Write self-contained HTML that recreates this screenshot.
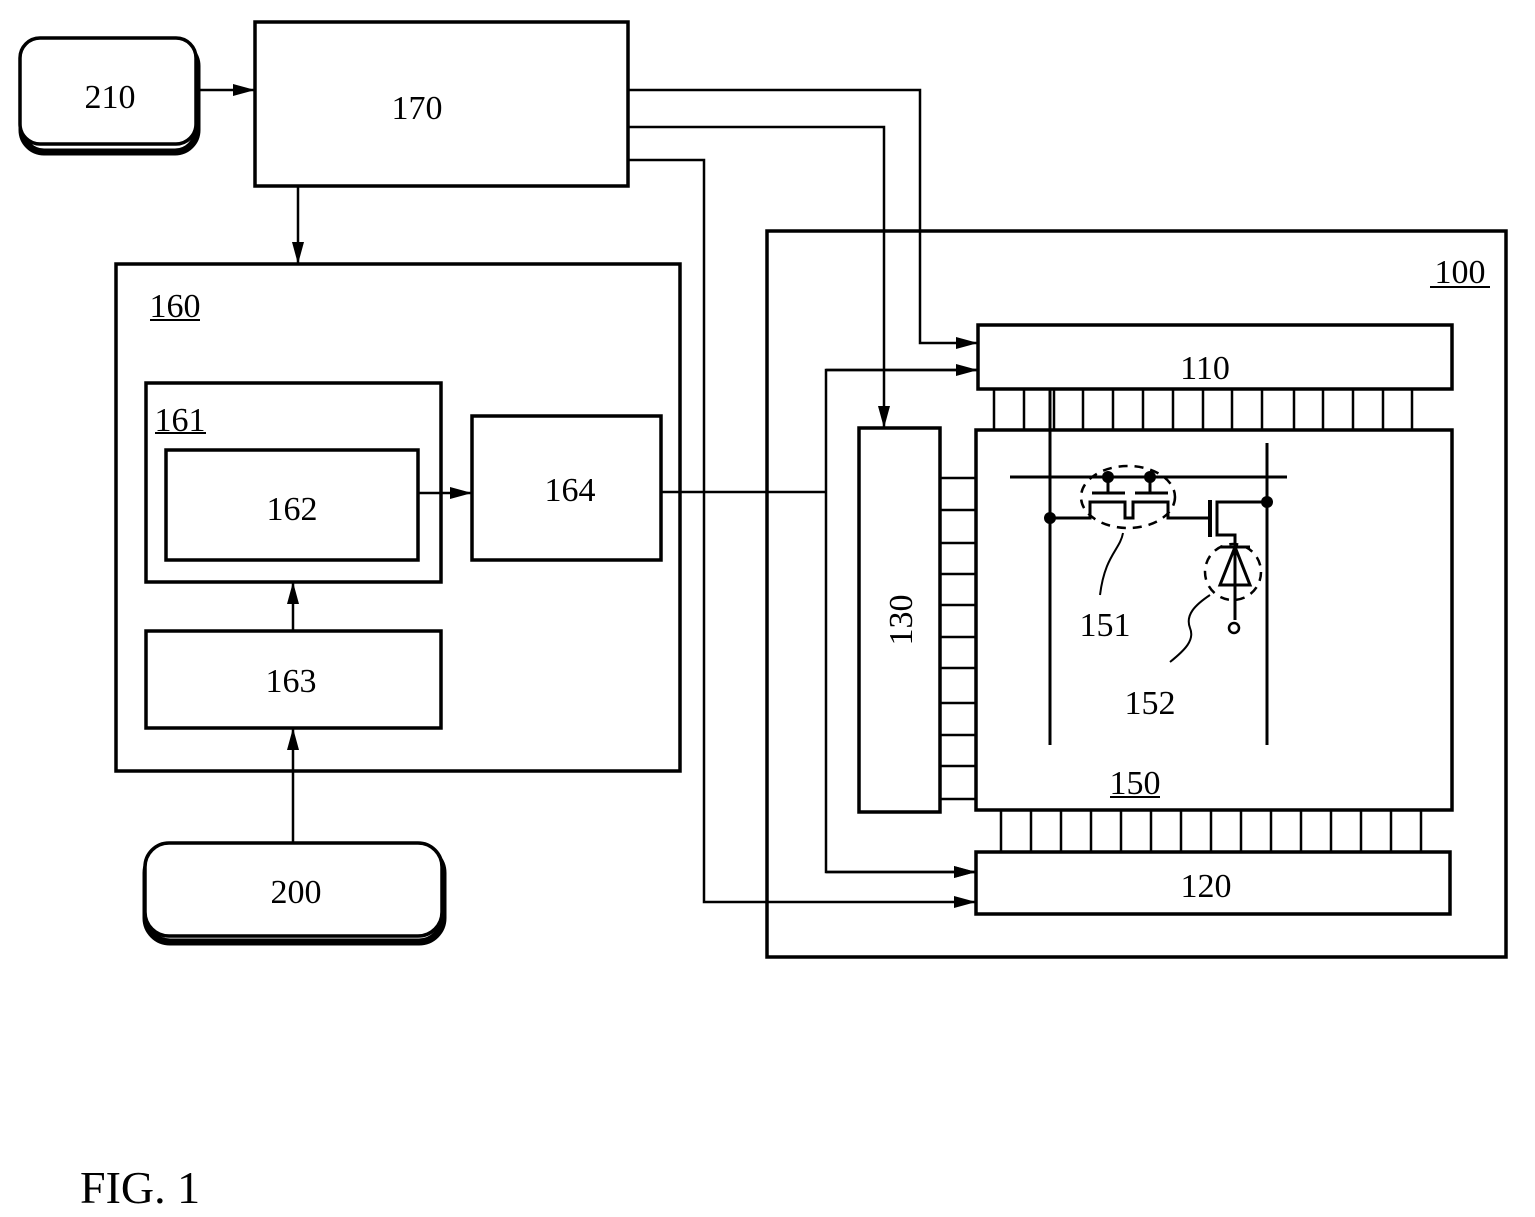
<!DOCTYPE html>
<html><head><style>html,body{margin:0;padding:0;background:#fff}svg{display:block}</style></head>
<body>
<svg width="1535" height="1217" viewBox="0 0 1535 1217" xmlns="http://www.w3.org/2000/svg" font-family="Liberation Serif, serif" font-size="34" fill="none" stroke="#000" stroke-width="3.5">
<defs>
<marker id="b" markerWidth="22" markerHeight="12" refX="22" refY="6" orient="auto" markerUnits="userSpaceOnUse"><path d="M0,0 L22,6 L0,12 z" fill="#000" stroke="none"/></marker>
</defs>
<!-- 210 -->
<rect x="22" y="44" width="175" height="108" rx="22" stroke-width="7"/>
<rect x="20" y="38" width="176" height="106" rx="20" fill="#fff"/>
<!-- 200 -->
<rect x="146" y="849" width="297" height="93" rx="24" stroke-width="7"/>
<rect x="145" y="843" width="297" height="93" rx="24" fill="#fff"/>
<rect x="255" y="22" width="373" height="164"/>
<rect x="116" y="264" width="564" height="507"/>
<rect x="146" y="383" width="295" height="199"/>
<rect x="166" y="450" width="252" height="110"/>
<rect x="472" y="416" width="189" height="144"/>
<rect x="146" y="631" width="295" height="97"/>
<rect x="767" y="231" width="739" height="726"/>
<rect x="978" y="325" width="474" height="64"/>
<rect x="859" y="428" width="81" height="384"/>
<rect x="976" y="430" width="476" height="380"/>
<rect x="976" y="852" width="474" height="62"/>
<!-- arrows -->
<g stroke-width="2.5">
<line x1="200" y1="90" x2="255" y2="90" marker-end="url(#b)"/>
<line x1="298" y1="186" x2="298" y2="264" marker-end="url(#b)"/>
<line x1="418" y1="493" x2="472" y2="493" marker-end="url(#b)"/>
<line x1="293" y1="631" x2="293" y2="582" marker-end="url(#b)"/>
<line x1="293" y1="843" x2="293" y2="728" marker-end="url(#b)"/>
<polyline points="628,90 920,90 920,343 978,343" marker-end="url(#b)"/>
<polyline points="628,127 884,127 884,428" marker-end="url(#b)"/>
<polyline points="628,160 704,160 704,902 976,902" marker-end="url(#b)"/>
<line x1="661" y1="492" x2="826" y2="492"/>
<polyline points="978,370 826,370 826,872 976,872" marker-end="url(#b)"/>
<line x1="826" y1="370" x2="978" y2="370" marker-end="url(#b)"/>
<line x1="826" y1="872" x2="976" y2="872" marker-end="url(#b)"/>
</g>
<!-- ticks -->
<g stroke-width="2.5">
<path d="M994 389V430M1024 389V430M1054 389V430M1083 389V430M1113 389V430M1143 389V430M1173 389V430M1203 389V430M1232 389V430M1262 389V430M1294 389V430M1323 389V430M1353 389V430M1383 389V430M1412 389V430"/>
<path d="M1001 810V852M1031 810V852M1061 810V852M1091 810V852M1121 810V852M1151 810V852M1181 810V852M1211 810V852M1241 810V852M1271 810V852M1301 810V852M1331 810V852M1361 810V852M1391 810V852M1421 810V852"/>
<path d="M940 478H976M940 510H976M940 543H976M940 574H976M940 605H976M940 637H976M940 668H976M940 703H976M940 735H976M940 766H976M940 799H976"/>
</g>
<!-- circuit -->
<g stroke-width="3">
<line x1="1050" y1="389" x2="1050" y2="745"/>
<line x1="1267" y1="443" x2="1267" y2="745"/>
<line x1="1010" y1="477" x2="1287" y2="477"/>
<path d="M1108 477V492M1150 477V492M1092 493H1125M1135 493H1168"/>
<polyline points="1050,518 1090,518 1090,502 1125,502 1125,518 1133,518 1133,502 1168,502 1168,518 1210,518"/>
<line x1="1210" y1="500" x2="1210" y2="537" stroke-width="4"/>
<polyline points="1267,502 1217,502 1217,535 1235,535 1235,620"/>
<path d="M1220 547H1250M1235 547L1220 585H1250Z"/>
<circle cx="1234" cy="628" r="5" stroke-width="2.5"/>
<g fill="#000" stroke="none"><circle cx="1050" cy="518" r="6"/><circle cx="1267" cy="502" r="6"/><circle cx="1108" cy="477" r="6"/><circle cx="1150" cy="477" r="6"/></g>
<ellipse cx="1128" cy="497" rx="47" ry="31" stroke-dasharray="9 7" stroke-width="2.5"/>
<circle cx="1233" cy="572" r="28" stroke-dasharray="9 7" stroke-width="2.5"/>
<path d="M1123 533C1120 550 1105 555 1100 595" stroke-width="2"/>
<path d="M1210 595C1195 605 1185 615 1190 628C1195 640 1185 650 1170 662" stroke-width="2"/>
</g>
<!-- labels -->
<g fill="#000" stroke="none" text-anchor="middle">
<text x="110" y="108">210</text>
<text x="417" y="119">170</text>
<text x="175" y="317">160</text>
<text x="180" y="431">161</text>
<text x="292" y="520">162</text>
<text x="570" y="501">164</text>
<text x="291" y="692">163</text>
<text x="296" y="903">200</text>
<text x="1460" y="283">100</text>
<text x="1205" y="379">110</text>
<text x="1206" y="897">120</text>
<text x="1135" y="794">150</text>
<text x="1105" y="636">151</text>
<text x="1150" y="714">152</text>
<text transform="translate(912,620) rotate(-90)">130</text>
<text x="80" y="1203" text-anchor="start" font-size="46">FIG. 1</text>
</g>
<g stroke-width="2">
<line x1="150" y1="320" x2="200" y2="320"/>
<line x1="155" y1="433" x2="206" y2="433"/>
<line x1="1430" y1="287" x2="1490" y2="287"/>
<line x1="1110" y1="797" x2="1160" y2="797"/>
</g>
</svg>
</body></html>
